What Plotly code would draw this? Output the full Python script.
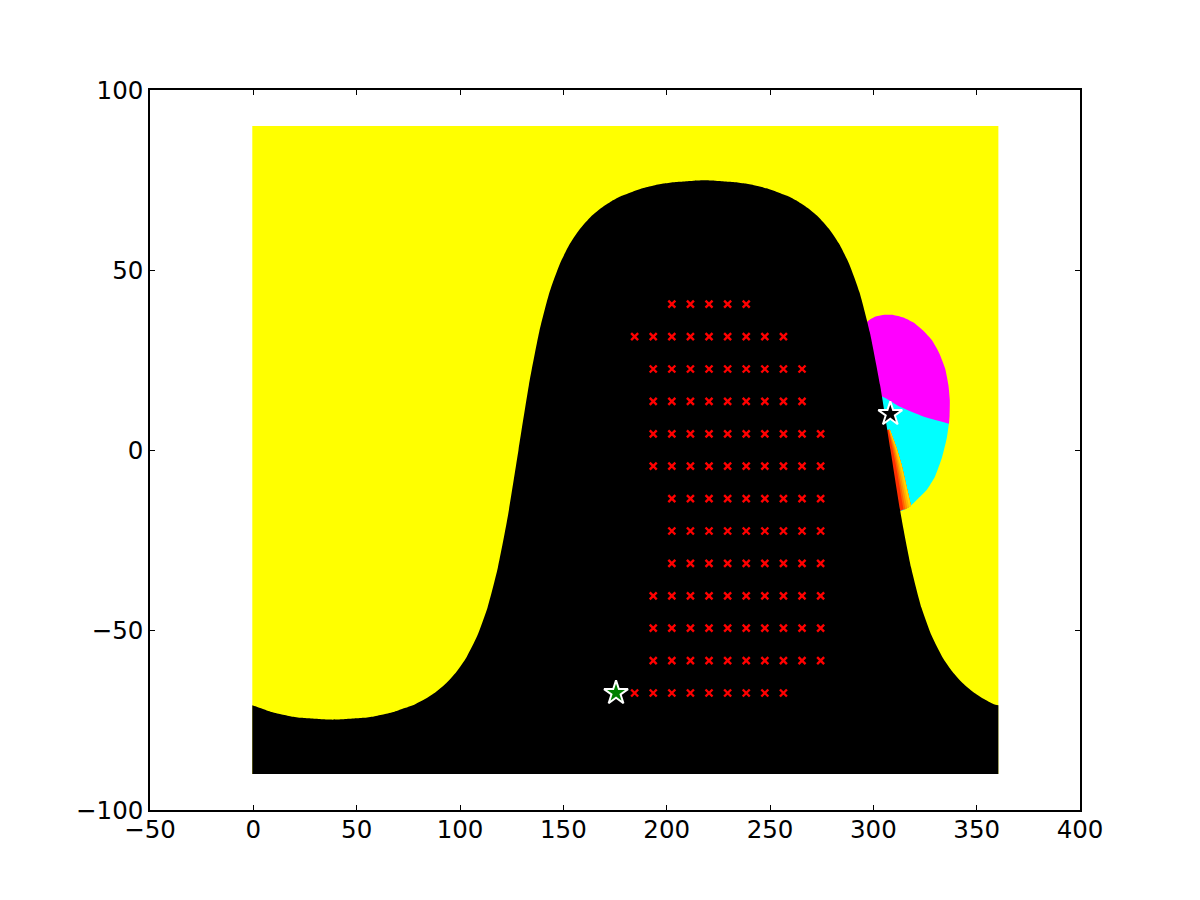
import plotly.graph_objects as go

term_lon = [-0.5, 3.3, 8.3, 13.3, 18.3, 23.3, 28.3, 33.3, 38.3, 43.3, 48.3, 53.3, 58.3, 63.3, 68.3, 73.3, 78.3, 83.3, 88.3, 93.3, 98.3, 103.3, 108.3, 113.3, 118.3, 123.3, 128.3, 133.3, 138.3, 143.3, 148.3, 153.3, 158.3, 163.3, 168.3, 173.3, 178.3, 183.3, 188.3, 193.3, 198.3, 203.3, 208.3, 213.3, 218.3, 223.3, 228.3, 233.3, 238.3, 243.3, 248.3, 253.3, 258.3, 263.3, 268.3, 273.3, 278.3, 283.3, 288.3, 293.3, 298.3, 303.3, 308.3, 313.3, 318.3, 323.3, 328.3, 333.3, 338.3, 343.3, 348.3, 353.3, 358.3, 360.5]
term_lat = [-70.9, -71.7, -72.7, -73.4, -74.0, -74.4, -74.6, -74.8, -74.9, -74.8, -74.6, -74.4, -74.0, -73.4, -72.7, -71.7, -70.6, -69.1, -67.2, -64.8, -61.6, -57.4, -51.7, -43.8, -32.7, -17.9, 0, 17.9, 32.7, 43.8, 51.7, 57.4, 61.6, 64.8, 67.2, 69.1, 70.6, 71.7, 72.7, 73.4, 74.0, 74.4, 74.6, 74.8, 74.9, 74.8, 74.6, 74.4, 74.0, 73.4, 72.7, 71.7, 70.6, 69.1, 67.2, 64.8, 61.6, 57.4, 51.7, 43.8, 32.7, 17.9, 0, -17.9, -32.7, -43.8, -51.7, -57.4, -61.6, -64.8, -67.2, -69.1, -70.6, -70.9]

magenta_lon = [336.6, 336.9, 337.0, 336.3, 334.7, 331.9, 328.2, 324.2, 319.4, 314.5, 309.7, 304.8, 300.8, 297.6, 290, 295, 304.5, 312.9, 324.2, 336.55]
magenta_lat = [7.3, 9.5, 13.9, 18.1, 22.7, 26.9, 30.6, 33.1, 35.4, 36.8, 37.5, 37.5, 37.0, 35.9, 30, 15, 14.8, 12.0, 9.3, 7.3]
cyan_lon = [336.6, 335.5, 333.1, 329.8, 325.8, 321.8, 318.1, 313.7, 300, 295, 310, 325, 336.55]
cyan_lat = [7.5, 3.2, -2.3, -7.4, -11.1, -13.4, -15.5, -16.9, -17, 15, 20, 15, 7.5]

band_lat = [5.6, 0.5, -4.2, -10.2]
band_bottom_lat = [-17.2, -16.7, -16.5, -16.2, -15.9, -15.5]
band_edges = [
    [306.0, 307.0, 308.0, 310.0, 312.0],
    [307.4, 309.4, 310.9, 312.7, 314.6],
    [307.5, 309.9, 311.6, 313.5, 315.5],
    [307.7, 310.4, 312.3, 314.4, 316.4],
    [307.8, 310.8, 313.0, 315.2, 317.3],
    [308.0, 311.3, 313.7, 316.1, 318.2],
]
band_colors = ["#ff3000", "#ff6400", "#ff9000", "#ffb800", "#ffd800"]

cross_lons = [184.5, 193.5, 202.5, 211.5, 220.5, 229.5, 238.5, 247.5, 256.5, 265.5, 274.5]
cross_lats = [40.5, 31.5, 22.5, 13.5, 4.5, -4.5, -13.5, -22.5, -31.5, -40.5, -49.5, -58.5, -67.5]
cross_first = [202.5, 184.5, 193.5, 193.5, 193.5, 193.5, 202.5, 202.5, 202.5, 193.5, 193.5, 193.5, 184.5]
cross_last = [238.5, 256.5, 265.5, 265.5, 274.5, 274.5, 274.5, 274.5, 274.5, 274.5, 274.5, 274.5, 256.5]

star_lon = [175.5, 308.2]
star_lat = [-67.5, 10]
star_colors = ["#008000", "#000000"]

x_ticks = [-50, 0, 50, 100, 150, 200, 250, 300, 350, 400]
y_ticks = [-100, -50, 0, 50, 100]

fig = go.Figure()


def poly(x, y, color, shape="linear"):
    fig.add_trace(go.Scatter(x=x, y=y, mode="lines", fill="toself", fillcolor=color,
                             line=dict(width=0, color=color, shape=shape, smoothing=0.5),
                             hoverinfo="skip", showlegend=False))


poly([-0.5, 360.5, 360.5, -0.5, -0.5], [-90, -90, 90, 90, -90], "#ffff00")
poly(cyan_lon, cyan_lat, "#00ffff", "spline")
poly(magenta_lon, magenta_lat, "#ff00ff", "spline")
# each colour runs to the outer edge of the strip, the next one paints over it
for i, c in enumerate(band_colors):
    left, right = band_edges[i], band_edges[-1]
    poly(left + right[::-1],
         band_lat + [band_bottom_lat[i], band_bottom_lat[-1]] + band_lat[::-1], c)

# black region: flat base at the bottom, terminator curve above it
fig.add_trace(go.Scatter(x=[-0.5, 360.5], y=[-90, -90], mode="lines", line=dict(width=0),
                         hoverinfo="skip", showlegend=False))
fig.add_trace(go.Scatter(x=term_lon, y=term_lat, mode="lines", fill="tonexty", fillcolor="#000000",
                         line=dict(width=0, color="#000000", shape="spline", smoothing=0.6),
                         hoverinfo="skip", showlegend=False))

cx, cy = [], []
for lat, a, b in zip(cross_lats, cross_first, cross_last):
    for lon in cross_lons:
        if a <= lon <= b:
            cx.append(lon)
            cy.append(lat)
fig.add_trace(go.Scatter(x=cx, y=cy, mode="markers", showlegend=False,
                         marker=dict(symbol="x-thin", size=7, color="#ff0000",
                                     line=dict(width=2.4, color="#ff0000"))))
fig.add_trace(go.Scatter(x=star_lon, y=star_lat, mode="markers", showlegend=False,
                         marker=dict(symbol="star", size=18, color=star_colors,
                                     line=dict(width=2, color="#ffffff"))))

axis = dict(showgrid=False, zeroline=False, showline=True, linecolor="#000000", linewidth=1.5,
            mirror="ticks", ticks="inside", ticklen=5, tickwidth=1, tickcolor="#000000",
            tickfont=dict(family="DejaVu Sans", size=24.5, color="#000000"))
fig.update_layout(
    width=1200, height=900, margin=dict(l=142, r=128, t=82, b=98, autoexpand=False),
    paper_bgcolor="#ffffff", plot_bgcolor="#ffffff",
    xaxis=dict(range=[-50, 400], tickvals=x_ticks, ticklabelstandoff=-3,
               ticktext=[str(v).replace("-", "\u2212") for v in x_ticks], **axis),
    yaxis=dict(range=[-100, 100], tickvals=y_ticks,
               ticktext=[str(v).replace("-", "\u2212") for v in y_ticks], **axis),
)
fig.write_html("out.html")
